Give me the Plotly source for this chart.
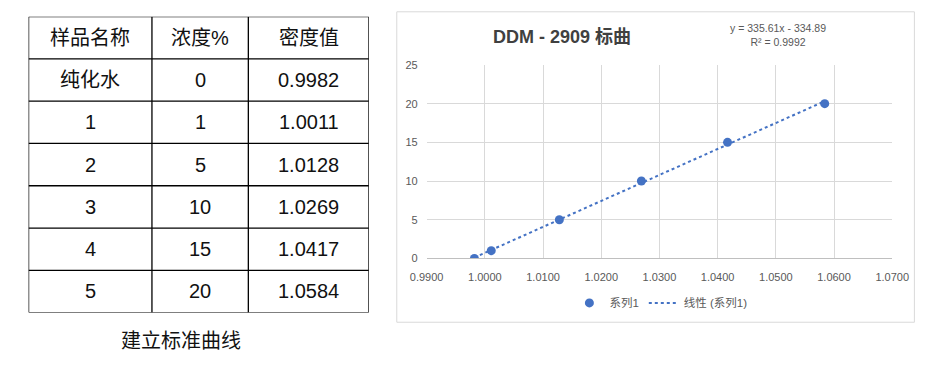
import numpy as np
import plotly.graph_objects as go

# ---------------- data ----------------
sample_names = ["纯化水", "1", "2", "3", "4", "5"]
concentration = [0, 1, 5, 10, 15, 20]
density = [0.9982, 1.0011, 1.0128, 1.0269, 1.0417, 1.0584]
header = ["样品名称", "浓度%", "密度值"]
density_labels = ["0.9982", "1.0011", "1.0128", "1.0269", "1.0417", "1.0584"]
caption = "建立标准曲线"
chart_title = "DDM - 2909 标曲"
series_name = "系列1"
trend_name = "线性 (系列1)"
x_ticks = [0.99, 1.00, 1.01, 1.02, 1.03, 1.04, 1.05, 1.06, 1.07]
y_ticks = [0, 5, 10, 15, 20, 25]

# ---------------- layout constants ----------------
W, H = 942, 365
BLUE = "#4472C4"
GRAY = "#595959"
GRID = "#d9d9d9"
TXT_FONT = "Liberation Sans, Arial, Noto Sans CJK SC"


def px(x):
    return x / W


def py(y):
    return 1 - y / H


# linear fit (Excel trendline)
slope, intercept = np.polyfit(density, concentration, 1)
pred = np.polyval([slope, intercept], density)
ss_res = np.sum((np.array(concentration) - pred) ** 2)
ss_tot = np.sum((np.array(concentration) - np.mean(concentration)) ** 2)
r2 = 1 - ss_res / ss_tot
x_fit = [min(density), max(density)]
y_fit = [slope * v + intercept for v in x_fit]

fig = go.Figure()
fig.add_trace(go.Scatter(
    x=density, y=concentration, mode="markers", name=series_name,
    marker=dict(color=BLUE, size=9), xaxis="x", yaxis="y",
))
fig.add_trace(go.Scatter(
    x=x_fit, y=y_fit, mode="lines", name=trend_name,
    line=dict(color=BLUE, width=2, dash="dot"), xaxis="x", yaxis="y",
))

# ---------------- table (drawn on auxiliary axes) ----------------
col_edges = [12, 140, 240, 365]
n_rows = len(sample_names) + 1
table_top, table_bottom = 11, 317

shapes = []
for r in range(n_rows + 1):
    shapes.append(dict(type="line", xref="x2", yref="y2",
                       x0=col_edges[0], x1=col_edges[-1], y0=r, y1=r,
                       line=dict(color="black", width=1.3)))
for c in col_edges:
    shapes.append(dict(type="line", xref="x2", yref="y2",
                       x0=c, x1=c, y0=0, y1=n_rows,
                       line=dict(color="black", width=1.3)))

# chart frame
shapes.append(dict(type="rect", xref="paper", yref="paper",
                   x0=px(394), x1=px(931), y0=py(327), y1=py(6),
                   line=dict(color=GRID, width=1), fillcolor="rgba(0,0,0,0)"))

annotations = []
rows = [header] + [[n, str(c), d] for n, c, d in zip(sample_names, concentration, density_labels)]
centers = [(col_edges[i] + col_edges[i + 1]) / 2 for i in range(3)]
for r, row in enumerate(rows):
    for c, txt in enumerate(row):
        annotations.append(dict(xref="x2", yref="y2", x=centers[c], y=r + 0.5,
                                text=txt, showarrow=False,
                                font=dict(family=TXT_FONT, size=20, color="#111111"),
                                xanchor="center", yanchor="middle"))

annotations.append(dict(xref="paper", yref="paper", x=px(170), y=py(346),
                        text=caption, showarrow=False,
                        font=dict(family=TXT_FONT, size=20, color="#111111"),
                        xanchor="center", yanchor="middle"))

annotations.append(dict(xref="paper", yref="paper", x=px(565), y=py(32),
                        text="<b>" + chart_title + "</b>", showarrow=False,
                        font=dict(family=TXT_FONT, size=18, color="#404040"),
                        xanchor="center", yanchor="middle"))
sign = "-" if intercept < 0 else "+"
eq = f"y = {slope:.2f}x {sign} {abs(intercept):.2f}<br>R² = {r2:.4f}"
annotations.append(dict(xref="paper", yref="paper", x=px(790), y=py(30),
                        text=eq, showarrow=False, align="center",
                        font=dict(family=TXT_FONT, size=10.5, color=GRAY),
                        xanchor="center", yanchor="middle"))

fig.update_layout(
    width=W, height=H, autosize=False,
    margin=dict(l=0, r=0, t=0, b=0),
    paper_bgcolor="white", plot_bgcolor="white",
    showlegend=True,
    legend=dict(orientation="h", x=px(668), y=py(307), xanchor="center", yanchor="middle",
                font=dict(family=TXT_FONT, size=11.5, color=GRAY),
                bgcolor="rgba(0,0,0,0)"),
    xaxis=dict(domain=[px(425), px(908)], range=[0.99, 1.07],
               tickvals=x_ticks, ticktext=[f"{v:.4f}" for v in x_ticks],
               showgrid=True, gridcolor=GRID, gridwidth=1,
               showline=True, linecolor="#bfbfbf", linewidth=1,
               zeroline=False, ticks="", ticklabelstandoff=8,
               tickfont=dict(family=TXT_FONT, size=11, color=GRAY),
               anchor="y", fixedrange=True),
    yaxis=dict(domain=[py(261), py(61)], range=[0, 25],
               tickvals=y_ticks, showgrid=True, gridcolor=GRID, gridwidth=1,
               showline=False, zeroline=False, ticks="", ticklabelstandoff=8,
               tickfont=dict(family=TXT_FONT, size=11, color=GRAY),
               anchor="x", fixedrange=True),
    xaxis2=dict(domain=[px(col_edges[0]), px(col_edges[-1])],
                range=[col_edges[0], col_edges[-1]], visible=False,
                anchor="y2", fixedrange=True),
    yaxis2=dict(domain=[py(table_bottom), py(table_top)],
                range=[n_rows, 0], visible=False, anchor="x2", fixedrange=True),
    shapes=shapes,
    annotations=annotations,
)

fig.write_html(
    "out.html",
    config={"displayModeBar": False},
    post_script="document.body.style.margin='0';document.body.style.overflow='hidden';"
                "document.documentElement.style.overflow='hidden';",
)
